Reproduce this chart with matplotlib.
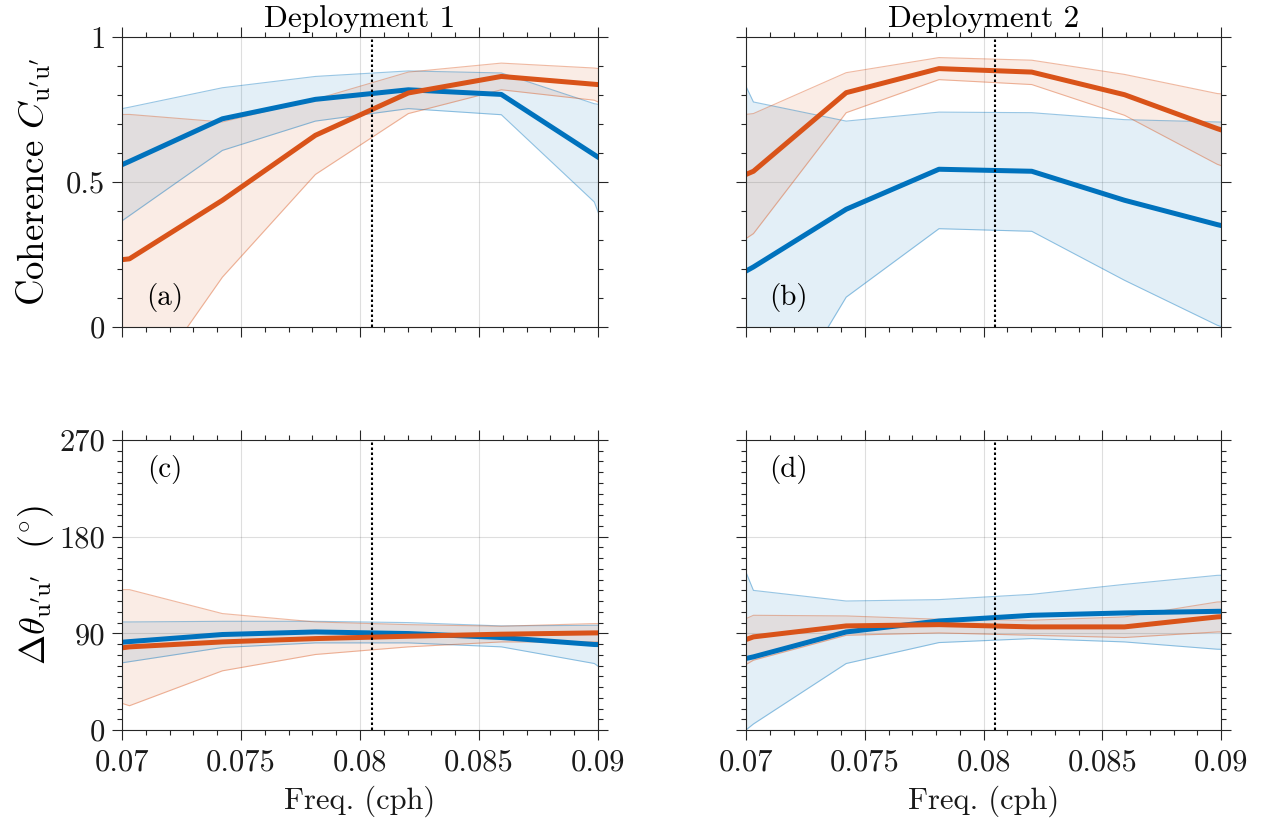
import matplotlib
matplotlib.use("Agg")
import matplotlib.pyplot as plt
from matplotlib.ticker import FixedLocator, MultipleLocator

plt.rcParams['font.family'] = 'cmr10'
plt.rcParams['mathtext.fontset'] = 'cm'
plt.rcParams['axes.formatter.use_mathtext'] = True

# frequency bins (cph); first and last lie just outside the plotted window
freq = [0.06640625, 0.0703125, 0.07421875, 0.078125, 0.08203125, 0.0859375, 0.08984375, 0.09375]
m2_freq = 0.0805

# coherence, deployment 1
coh1_s1 = [0.43, 0.571, 0.718, 0.785, 0.818, 0.802, 0.594, 0.39]
coh1_s1_lo = [0.16, 0.384, 0.609, 0.710, 0.753, 0.732, 0.431, -0.42]
coh1_s1_hi = [0.695, 0.758, 0.825, 0.864, 0.883, 0.876, 0.770, 0.72]
coh1_s2 = [0.20, 0.235, 0.437, 0.661, 0.807, 0.864, 0.837, 0.81]
coh1_s2_lo = [-0.5, -0.286, 0.172, 0.526, 0.736, 0.818, 0.782, 0.63]
coh1_s2_hi = [0.73, 0.733, 0.707, 0.785, 0.879, 0.910, 0.893, 0.85]

# coherence, deployment 2
coh2_s1 = [0.03, 0.207, 0.406, 0.544, 0.537, 0.437, 0.353, 0.28]
coh2_s1_lo = [-0.6, -0.428, 0.103, 0.339, 0.330, 0.161, 0.006, -0.1]
coh2_s1_hi = [1.45, 0.776, 0.710, 0.741, 0.739, 0.715, 0.707, 0.70]
coh2_s2 = [0.40, 0.537, 0.808, 0.891, 0.879, 0.801, 0.684, 0.58]
coh2_s2_lo = [0.11, 0.322, 0.739, 0.853, 0.836, 0.730, 0.561, 0.45]
coh2_s2_hi = [0.70, 0.736, 0.877, 0.929, 0.920, 0.871, 0.805, 0.78]

# phase difference (deg), deployment 1
ph1_s1 = [75, 82.3, 88.9, 91.3, 89.8, 86.1, 79.6, 78]
ph1_s1_lo = [50, 63.6, 76.8, 81.1, 81.1, 77.4, 61.9, 0]
ph1_s1_hi = [100.5, 100.6, 101.2, 101.2, 100.0, 96.9, 97.5, 98]
ph1_s2 = [66, 77.4, 82.0, 85.1, 87.3, 89.2, 90.4, 90.5]
ph1_s2_lo = [50, 22.6, 55.1, 70.3, 77.4, 82.0, 82.0, 82]
ph1_s2_hi = [130.7, 130.7, 108.4, 100.6, 98.1, 96.6, 99.1, 99]

# phase difference (deg), deployment 2
ph2_s1 = [49.4, 68.1, 91.3, 101.5, 106.8, 109.0, 110.5, 111]
ph2_s1_lo = [-64, 5.6, 61.9, 81.4, 85.1, 82.0, 75.2, 74]
ph2_s1_hi = [342, 130.0, 120.1, 121.4, 126.3, 135.6, 144.0, 145]
ph2_s2 = [55.5, 86.7, 96.9, 98.1, 96.0, 96.0, 105.3, 110]
ph2_s2_lo = [15, 65.0, 88.2, 90.4, 88.2, 86.1, 91.3, 92]
ph2_s2_hi = [68, 106.8, 106.2, 103.1, 102.2, 105.3, 119.2, 121]

xticks = [0.07, 0.075, 0.08, 0.085, 0.09]
xticklabels = ['0.07', '0.075', '0.08', '0.085', '0.09']
coh_ticks = [0, 0.5, 1]
coh_ticklabels = ['0', '0.5', '1']
ph_ticks = [0, 90, 180, 270]
ph_ticklabels = ['0', '90', '180', '270']

blue = '#0072BD'
red = '#D95319'
axcol = '#262626'

fig = plt.figure(figsize=(12.69, 8.32), dpi=100)
W, H = 1269, 832
def box(x0, x1, y0, y1):
    return [x0 / W, 1 - y1 / H, (x1 - x0) / W, (y1 - y0) / H]

ax_a = fig.add_axes(box(122, 598, 37, 327))
ax_b = fig.add_axes(box(746, 1221, 37, 327))
ax_c = fig.add_axes(box(122, 598, 440, 730))
ax_d = fig.add_axes(box(746, 1221, 440, 730))


def draw_panel(ax, s1, s1_lo, s1_hi, s2, s2_lo, s2_hi):
    ax.fill_between(freq, s1_lo, s1_hi, color=blue, alpha=0.11, lw=0)
    ax.fill_between(freq, s2_lo, s2_hi, color=red, alpha=0.11, lw=0)
    for lo, hi, c in [(s1_lo, s1_hi, blue), (s2_lo, s2_hi, red)]:
        ax.plot(freq, lo, color=c, alpha=0.4, lw=0.8)
        ax.plot(freq, hi, color=c, alpha=0.4, lw=0.8)
    ax.plot(freq, s1, color=blue, lw=3.6, solid_capstyle='butt')
    ax.plot(freq, s2, color=red, lw=3.6, solid_capstyle='butt')
    ax.axvline(m2_freq, color='k', ls=(0, (1.2, 1.2)), lw=1.5, zorder=5)

    ax.set_xlim(0.07, 0.09)
    ax.xaxis.set_major_locator(FixedLocator(xticks))
    ax.xaxis.set_minor_locator(MultipleLocator(0.001))
    ax.grid(True, which='major', color=axcol, alpha=0.15, lw=0.8)
    ax.set_axisbelow(True)
    ax.tick_params(which='both', direction='out', top=True, right=True,
                   colors=axcol, labelcolor='#1a1a1a', width=0.8, labelsize=22)
    ax.tick_params(which='major', length=7, pad=5)
    ax.tick_params(which='minor', length=3.5)
    ax.tick_params(axis='x', which='major', pad=7)
    for sp in ax.spines.values():
        sp.set_linewidth(0.8)
        sp.set_color(axcol)


draw_panel(ax_a, coh1_s1, coh1_s1_lo, coh1_s1_hi, coh1_s2, coh1_s2_lo, coh1_s2_hi)
draw_panel(ax_b, coh2_s1, coh2_s1_lo, coh2_s1_hi, coh2_s2, coh2_s2_lo, coh2_s2_hi)
draw_panel(ax_c, ph1_s1, ph1_s1_lo, ph1_s1_hi, ph1_s2, ph1_s2_lo, ph1_s2_hi)
draw_panel(ax_d, ph2_s1, ph2_s1_lo, ph2_s1_hi, ph2_s2, ph2_s2_lo, ph2_s2_hi)

for ax in (ax_a, ax_b):
    ax.set_ylim(0, 1)
    ax.set_yticks(coh_ticks)
    ax.yaxis.set_minor_locator(MultipleLocator(0.1))
    ax.tick_params(labelbottom=False)
ax_a.set_yticklabels(coh_ticklabels)

for ax in (ax_c, ax_d):
    ax.set_ylim(0, 270)
    ax.set_yticks(ph_ticks)
    ax.yaxis.set_minor_locator(MultipleLocator(10))
    ax.set_xticklabels(xticklabels)
    ax.set_xlabel('Freq. (cph)', fontsize=22, labelpad=6, color='#1a1a1a')
ax_c.set_yticklabels(ph_ticklabels)

for ax in (ax_b, ax_d):
    ax.tick_params(labelleft=False)

ax_a.set_title('Deployment 1', fontsize=22.5, y=1.034, pad=0)
ax_b.set_title('Deployment 2', fontsize=22.5, y=1.034, pad=0)

ylab_x = (45 - 122) / 476
ax_a.text(ylab_x, 0.5, r"Coherence $C_{\mathrm{u}'\mathrm{u}'}$", transform=ax_a.transAxes,
          rotation=90, rotation_mode='anchor', ha='center', va='baseline', fontsize=26.5)
ax_c.text(ylab_x, 0.5, r"$\Delta\theta_{\mathrm{u}'\mathrm{u}'}$  $(^{\circ})$", transform=ax_c.transAxes,
          rotation=90, rotation_mode='anchor', ha='center', va='baseline', fontsize=26)

for ax, lab, ypos in [(ax_a, '(a)', 0.10), (ax_b, '(b)', 0.10), (ax_c, '(c)', 0.90), (ax_d, '(d)', 0.90)]:
    ax.text(0.09, ypos, lab, transform=ax.transAxes, ha='center', va='center', fontsize=21)

fig.savefig('out.png', dpi=100)
